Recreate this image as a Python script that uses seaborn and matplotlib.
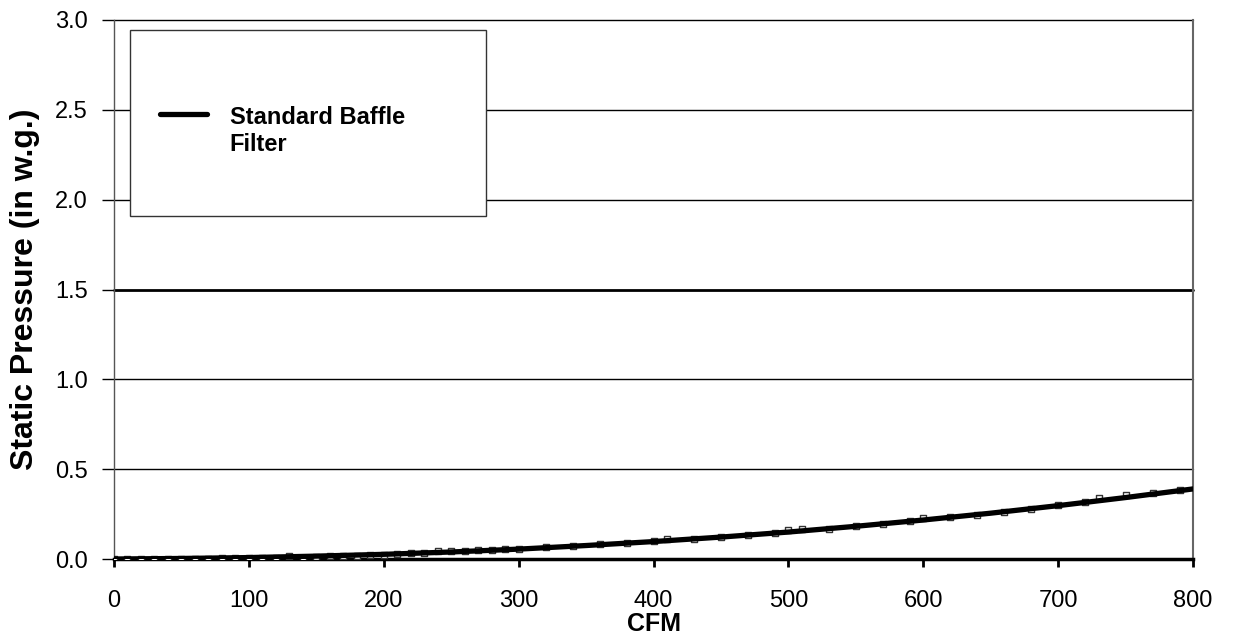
import matplotlib
matplotlib.use("Agg")
import matplotlib.pyplot as plt
from matplotlib.legend_handler import HandlerLine2D
from matplotlib.patches import Rectangle
import seaborn as sns
import pandas as pd
import numpy as np

cfm_line = [0, 50, 100, 150, 200, 250, 300, 350, 400, 450, 500, 550, 600, 650, 700, 750, 800]
sp_line = [0.0, 0.003, 0.008, 0.016, 0.026, 0.039, 0.055, 0.075, 0.097, 0.122, 0.150, 0.182, 0.217, 0.255, 0.297, 0.342, 0.390]

cfm_pts = [0, 10, 20, 30, 40, 50, 60, 70, 80, 90, 100, 110, 120, 130, 140, 150, 160, 170, 180, 190,
           200, 210, 220, 230, 240, 250, 260, 270, 280, 290, 300, 320, 340, 360, 380, 400, 410,
           430, 450, 470, 490, 500, 510, 530, 550, 570, 590, 600, 620, 640, 660, 680, 700,
           720, 730, 750, 770, 790]
sp_pts = [0.0, 0.0, 0.0, 0.0, 0.0, 0.0, 0.0, 0.0, 0.008, 0.003, 0.003, 0.004, 0.006, 0.014, 0.008, 0.012, 0.014, 0.016, 0.018, 0.021,
          0.024, 0.027, 0.031, 0.035, 0.045, 0.042, 0.046, 0.049, 0.052, 0.055, 0.058, 0.066, 0.074, 0.082, 0.090, 0.100, 0.112,
          0.114, 0.124, 0.134, 0.146, 0.160, 0.165, 0.168, 0.182, 0.196, 0.210, 0.228, 0.232, 0.247, 0.262, 0.280, 0.298,
          0.318, 0.340, 0.358, 0.370, 0.385]

y_ticks = [0, 0.5, 1.0, 1.5, 2.0, 2.5, 3.0]
y_tick_labels = ["0.0", "0.5", "1.0", "1.5", "2.0", "2.5", "3.0"]
x_ticks = [0, 100, 200, 300, 400, 500, 600, 700, 800]

sns.set_theme(style="white")
plt.rcParams['font.family'] = ['Liberation Sans', 'DejaVu Sans']
plt.rcParams['text.color'] = 'black'
plt.rcParams['axes.labelcolor'] = 'black'

W, H = 1235, 637
x0px, x1px, y0px, y1px = 114, 1193, 559, 20

fig = plt.figure(figsize=(W / 100, H / 100), dpi=100)
ax = fig.add_axes([x0px / W, 1 - y0px / H, (x1px - x0px) / W, (y0px - y1px) / H])

def axfx(px):
    return (px - x0px) / (x1px - x0px)

def axfy(py):
    return (y0px - py) / (y0px - y1px)

df_pts = pd.DataFrame({"CFM": cfm_pts, "SP": sp_pts})
df_line = pd.DataFrame({"CFM": cfm_line, "SP": sp_line})

sns.scatterplot(data=df_pts, x="CFM", y="SP", ax=ax, marker="s", s=24,
                facecolor="white", edgecolor="#333333", linewidth=1.0, zorder=3)
sns.lineplot(data=df_line, x="CFM", y="SP", ax=ax, color="black", linewidth=3.8,
             label="Standard Baffle\nFilter", zorder=4)

ax.set_xlim(0, 800)
ax.set_ylim(0, 3.0)
ax.set_xticks(x_ticks)
ax.set_yticks(y_ticks)
ax.set_yticklabels(y_tick_labels)
ax.yaxis.grid(True, color="black", linewidth=1.0)
ax.set_axisbelow(True)
gl = ax.get_ygridlines()
gl[3].set_linewidth(2.0)
for g in gl:
    g.set_clip_on(False)

ax.spines["top"].set_visible(False)
ax.spines["left"].set_color("#555555")
ax.spines["left"].set_linewidth(1.0)
ax.spines["right"].set_color("#666666")
ax.spines["right"].set_linewidth(1.5)
ax.spines["bottom"].set_color("black")
ax.spines["bottom"].set_linewidth(2.5)

ax.tick_params(axis="both", labelsize=17, colors="black", direction="out")
ax.tick_params(axis="x", bottom=True, length=6, width=2, pad=16)
ax.tick_params(axis="y", left=True, length=9, width=1, pad=10)

ax.set_xlabel("CFM", fontsize=18, fontweight="bold", labelpad=0)
ax.set_ylabel("Static Pressure (in w.g.)", fontsize=23, fontweight="bold")
ax.yaxis.set_label_coords(axfx(40), 0.5)


class ShiftedLine(HandlerLine2D):
    def create_artists(self, legend, orig_handle, xdescent, ydescent, width, height, fontsize, trans):
        arts = super().create_artists(legend, orig_handle, xdescent, ydescent, width, height, fontsize, trans)
        for a in arts:
            a.set_ydata(np.asarray(a.get_ydata()) + 12.5)
        return arts


ax.add_patch(Rectangle((axfx(130), axfy(216)), axfx(486) - axfx(130), axfy(30) - axfy(216),
                       transform=ax.transAxes, facecolor="white", edgecolor="#333333",
                       linewidth=1.0, zorder=5))

handles, labels = ax.get_legend_handles_labels()
leg = ax.legend(handles, labels, loc="upper left", bbox_to_anchor=(axfx(160), axfy(106)),
                frameon=False, borderpad=0, borderaxespad=0,
                prop={"weight": "bold", "size": 17}, handlelength=2.0, handletextpad=0.95,
                handler_map={handles[0]: ShiftedLine()})
leg.set_zorder(6)

fig.savefig("out.png", dpi=100, facecolor="white")
